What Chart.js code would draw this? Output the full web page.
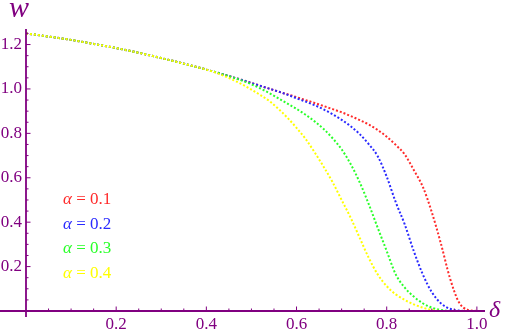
<!DOCTYPE html>
<html>
<head>
<meta charset="utf-8">
<script src="https://cdn.jsdelivr.net/npm/chart.js@4/dist/chart.umd.min.js"></script>
<style>
  html, body { margin: 0; padding: 0; background: #fff; }
  #wrap { width: 505px; height: 331px; position: relative; }
</style>
</head>
<body>
<div id="wrap"><canvas id="chart"></canvas></div>
<script>
// delta values (x), shared by all curves
const delta = [0, 0.05, 0.1, 0.15, 0.2, 0.25, 0.3, 0.35, 0.4,
  0.42, 0.44, 0.46, 0.48, 0.5, 0.52, 0.54, 0.56, 0.58, 0.6,
  0.62, 0.64, 0.66, 0.68, 0.7, 0.72, 0.74, 0.76, 0.78, 0.8,
  0.82, 0.84, 0.86, 0.88, 0.9, 0.92, 0.94, 0.96, 0.98, 1.0];

// W values, one array per alpha
const wAlpha01 = [1.250, 1.236, 1.221, 1.203, 1.184, 1.163, 1.139, 1.114, 1.087,
  1.076, 1.064, 1.052, 1.040, 1.027, 1.014, 1.001, 0.988, 0.976, 0.963,
  0.950, 0.937, 0.923, 0.909, 0.895, 0.878, 0.860, 0.840, 0.815, 0.785,
  0.748, 0.705, 0.635, 0.560, 0.445, 0.305, 0.150, 0.040, 0.005, 0];
const wAlpha02 = [1.250, 1.236, 1.221, 1.203, 1.184, 1.163, 1.139, 1.114, 1.087,
  1.076, 1.064, 1.052, 1.040, 1.027, 1.014, 1.001, 0.988, 0.974, 0.958,
  0.943, 0.927, 0.908, 0.886, 0.861, 0.832, 0.797, 0.752, 0.697, 0.605,
  0.490, 0.390, 0.270, 0.165, 0.085, 0.035, 0.010, 0.002, 0, 0];
const wAlpha03 = [1.250, 1.236, 1.221, 1.203, 1.184, 1.163, 1.139, 1.114, 1.087,
  1.076, 1.064, 1.051, 1.037, 1.021, 1.002, 0.981, 0.958, 0.934, 0.910,
  0.884, 0.854, 0.820, 0.778, 0.728, 0.662, 0.580, 0.482, 0.375, 0.270,
  0.165, 0.105, 0.065, 0.035, 0.015, 0.005, 0, 0, 0, 0];
const wAlpha04 = [1.250, 1.236, 1.221, 1.203, 1.184, 1.163, 1.139, 1.114, 1.087,
  1.074, 1.058, 1.040, 1.020, 0.997, 0.972, 0.945, 0.910, 0.870, 0.825,
  0.775, 0.715, 0.650, 0.580, 0.500, 0.420, 0.330, 0.240, 0.165, 0.112,
  0.075, 0.050, 0.030, 0.015, 0.005, 0, 0, 0, 0, 0];

const seriesLabels = ['0.1', '0.2', '0.3', '0.4'];
const seriesColors = ['#ff2a2a', '#2a2aff', '#2aff2a', '#ffff00'];
const xTicks = [0.2, 0.4, 0.6, 0.8, 1.0];
const yTicks = [0.2, 0.4, 0.6, 0.8, 1.0, 1.2];

const purple = 'rgb(128,0,128)';
const serif = 'Liberation Serif, Times New Roman, serif';

const allSeries = [wAlpha01, wAlpha02, wAlpha03, wAlpha04];

// axes drawn through the origin, with inward major/minor ticks, labels and legend
const axesPlugin = {
  id: 'axes',
  afterDatasetsDraw(chart) {
    const { ctx, scales: { x, y }, chartArea } = chart;
    const x0 = x.getPixelForValue(0);
    const y0 = y.getPixelForValue(0);
    ctx.save();
    ctx.strokeStyle = purple;
    ctx.lineWidth = 1.8;
    ctx.beginPath();
    ctx.moveTo(0, y0);
    ctx.lineTo(chartArea.right, y0);
    ctx.moveTo(x0, chartArea.top);
    ctx.lineTo(x0, y0 + 6);
    ctx.stroke();

    ctx.lineWidth = 1;
    ctx.beginPath();
    for (let i = 1; i <= 20; i++) {
      const v = i * 0.05;
      const len = i % 4 === 0 ? 4.5 : 2.5;
      const px = x.getPixelForValue(v);
      ctx.moveTo(px, y0);
      ctx.lineTo(px, y0 - len);
    }
    for (let i = 1; i <= 25; i++) {
      const v = i * 0.05;
      const len = i % 4 === 0 ? 4.5 : 2.5;
      const py = y.getPixelForValue(v);
      ctx.moveTo(x0, py);
      ctx.lineTo(x0 + len, py);
    }
    ctx.stroke();

    // axis labels
    ctx.fillStyle = purple;
    ctx.textBaseline = 'alphabetic';
    ctx.textAlign = 'left';
    ctx.font = 'italic 30px ' + serif;
    ctx.fillText('w', 9, 17);
    ctx.font = 'italic 24px ' + serif;
    ctx.fillText('δ', 489, 317);

    // legend
    ctx.textBaseline = 'middle';
    seriesLabels.forEach((lab, i) => {
      const ty = 200 + i * 24.4;
      ctx.fillStyle = seriesColors[i];
      ctx.font = 'italic 17px ' + serif;
      ctx.fillText('α', 63, ty);
      const aw = ctx.measureText('α').width;
      ctx.font = '17px ' + serif;
      ctx.fillText(' = ' + lab, 63 + aw, ty);
    });
    ctx.restore();
  }
};

new Chart(document.getElementById('chart'), {
  type: 'line',
  data: {
    datasets: allSeries.map((s, i) => ({
      label: 'α = ' + seriesLabels[i],
      data: delta.map((d, j) => ({ x: d, y: s[j] })),
      borderColor: seriesColors[i],
      borderWidth: 2,
      borderDash: [2, 2],
      pointRadius: 0,
      cubicInterpolationMode: 'monotone',
      fill: false,
      order: 3 - i,
    })),
  },
  options: {
    responsive: true,
    maintainAspectRatio: false,
    animation: false,
    layout: { padding: { top: 29, right: 20, left: 0, bottom: 0 } },
    plugins: { legend: { display: false }, tooltip: { enabled: false } },
    scales: {
      x: {
        type: 'linear',
        min: 0,
        max: 1.018,
        grid: { display: false, drawTicks: false },
        border: { display: false },
        afterFit: (s) => { s.height = 20; },
        afterBuildTicks: (s) => { s.ticks = xTicks.map(v => ({ value: v })); },
        ticks: {
          padding: 3,
          color: purple,
          font: { family: serif, size: 17 },
          maxRotation: 0,
          autoSkip: false,
          callback: (v) => v.toFixed(1),
        },
      },
      y: {
        type: 'linear',
        min: 0,
        max: 1.27,
        grid: { display: false, drawTicks: false },
        border: { display: false },
        afterFit: (s) => { s.width = 26; },
        afterBuildTicks: (s) => { s.ticks = yTicks.map(v => ({ value: v })); },
        ticks: {
          padding: 4,
          color: purple,
          font: { family: serif, size: 17 },
          autoSkip: false,
          callback: (v) => v.toFixed(1),
        },
      },
    },
  },
  plugins: [axesPlugin],
});
</script>
</body>
</html>
